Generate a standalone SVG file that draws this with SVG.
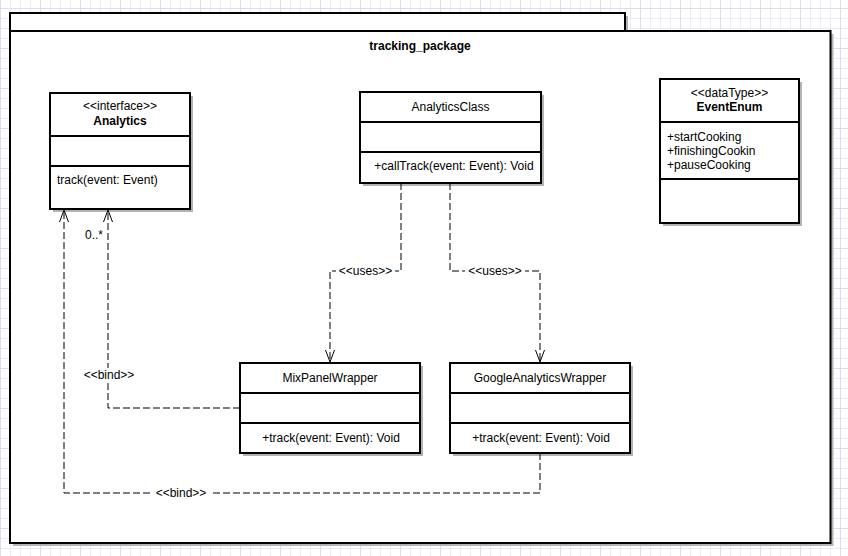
<svg xmlns="http://www.w3.org/2000/svg" width="848" height="556" viewBox="0 0 848 556">
  <defs>
    <pattern id="grid" patternUnits="userSpaceOnUse" x="0" y="8" width="40" height="40">
      <path d="M10.5,0V40M20.5,0V40M30.5,0V40M0,10.5H40M0,20.5H40M0,30.5H40" stroke="#ebebf8" stroke-width="1" fill="none"/>
      <path d="M0.5,0V40M0,0.5H40" stroke="#dcdcf3" stroke-width="1" fill="none"/>
    </pattern>
    <marker id="open" markerUnits="userSpaceOnUse" markerWidth="14" markerHeight="12" refX="12" refY="5" orient="auto" overflow="visible">
      <path d="M0,0.5 L12,5 L0,9.5" fill="none" stroke="#000" stroke-width="1"/>
    </marker>
    <style>
      .box{fill:#fff;stroke:#000;stroke-width:2}
      .shadow{fill:#b3b3b3;stroke:none}
      .div{stroke:#000;stroke-width:2;fill:none}
      text{font-family:"Liberation Sans",Arial,sans-serif;font-size:12px;fill:#000}
      .b{font-weight:bold}
      .c{text-anchor:middle}
      .edge{fill:none;stroke:#000;stroke-width:1;stroke-dasharray:7 3}
      .lbg{fill:#fff;stroke:none}
    </style>
  </defs>
  <rect x="0" y="0" width="848" height="556" fill="#fff"/>
  <rect x="0" y="0" width="848" height="556" fill="url(#grid)"/>

  <g id="tracking_package">
    <rect class="shadow" x="13" y="16" width="615" height="18"/>
    <rect class="shadow" x="13" y="34" width="820.5" height="512"/>
    <rect class="box" x="10" y="13" width="615" height="18"/>
    <rect class="box" x="10" y="31" width="820.5" height="512"/>
    <text class="b c" x="420" y="50">tracking_package</text>
  </g>

  <g id="Analytics">
    <rect class="shadow" x="53" y="96" width="140" height="116"/>
    <rect class="box" x="50" y="93" width="140" height="116"/>
    <path class="div" d="M50,136H190M50,166H190"/>
    <text class="c" x="120" y="110">&lt;&lt;interface&gt;&gt;</text>
    <text class="b c" x="120" y="125">Analytics</text>
    <text x="57" y="184">track(event: Event)</text>
  </g>

  <g id="AnalyticsClass">
    <rect class="shadow" x="363" y="95" width="181" height="91"/>
    <rect class="box" x="360" y="92" width="181" height="91"/>
    <path class="div" d="M360,122H541M360,152H541"/>
    <text class="c" x="450.5" y="111">AnalyticsClass</text>
    <text class="c" x="454" y="170">+callTrack(event: Event): Void</text>
  </g>

  <g id="EventEnum">
    <rect class="shadow" x="663" y="82" width="139" height="144"/>
    <rect class="box" x="660" y="79" width="139" height="144"/>
    <path class="div" d="M660,122H799M660,179H799"/>
    <text class="c" x="729.5" y="97">&lt;&lt;dataType&gt;&gt;</text>
    <text class="b c" x="729.5" y="110.5">EventEnum</text>
    <text x="667" y="141">+startCooking</text>
    <text x="667" y="155">+finishingCookin</text>
    <text x="667" y="169">+pauseCooking</text>
  </g>

  <g id="MixPanelWrapper">
    <rect class="shadow" x="243" y="366" width="180" height="90"/>
    <rect class="box" x="240" y="363" width="180" height="90"/>
    <path class="div" d="M240,393H420M240,423H420"/>
    <text class="c" x="330" y="382">MixPanelWrapper</text>
    <text class="c" x="331" y="442">+track(event: Event): Void</text>
  </g>

  <g id="GoogleAnalyticsWrapper">
    <rect class="shadow" x="453" y="366" width="180" height="90"/>
    <rect class="box" x="450" y="363" width="180" height="90"/>
    <path class="div" d="M450,393H630M450,423H630"/>
    <text class="c" x="540" y="382">GoogleAnalyticsWrapper</text>
    <text class="c" x="541" y="442">+track(event: Event): Void</text>
  </g>

  <g id="connectors">
    <path class="edge" d="M401,183V271H330V362" marker-end="url(#open)"/>
    <rect class="lbg" x="336" y="265" width="59" height="13"/>
    <text class="c" x="365.5" y="275">&lt;&lt;uses&gt;&gt;</text>

    <path class="edge" d="M450,183V271H540V362" marker-end="url(#open)"/>
    <rect class="lbg" x="465" y="265" width="60" height="13"/>
    <text class="c" x="495" y="275">&lt;&lt;uses&gt;&gt;</text>

    <path class="edge" d="M240,408H108V210" marker-end="url(#open)"/>
    <rect class="lbg" x="81" y="368" width="56" height="14"/>
    <text class="c" x="109" y="379">&lt;&lt;bind&gt;&gt;</text>
    <text x="85" y="239">0..*</text>

    <path class="edge" d="M540,453V493H64V210" marker-end="url(#open)"/>
    <rect class="lbg" x="152" y="486" width="58" height="13"/>
    <text class="c" x="181" y="497">&lt;&lt;bind&gt;&gt;</text>
  </g>
</svg>
